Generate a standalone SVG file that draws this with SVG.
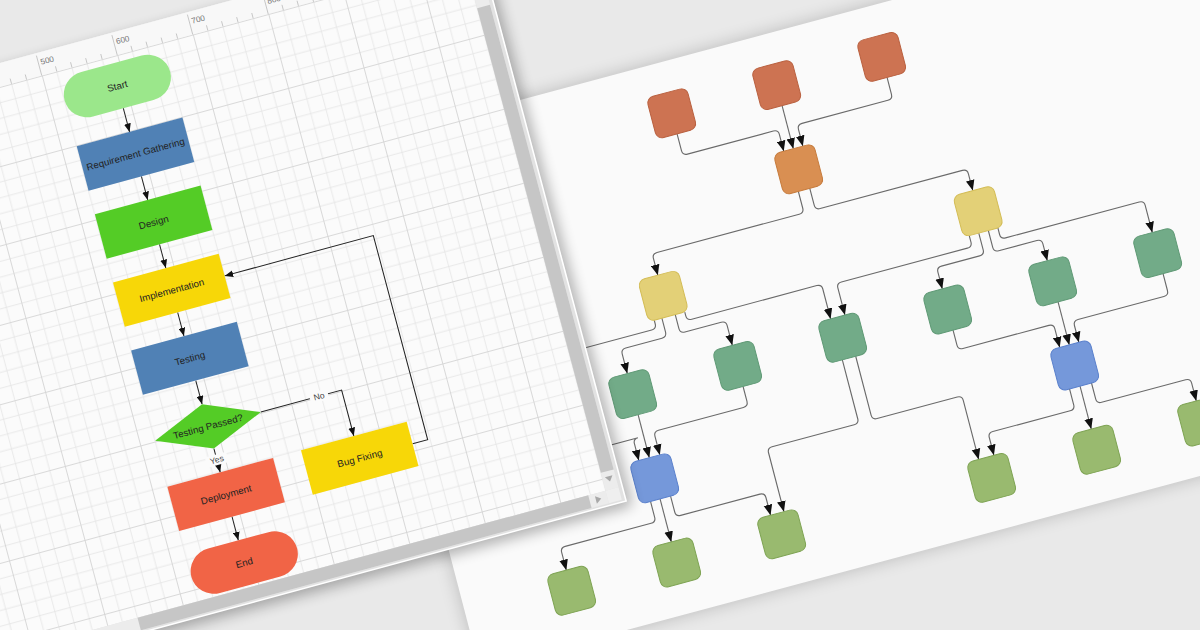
<svg xmlns="http://www.w3.org/2000/svg" width="1200" height="630" viewBox="0 0 1200 630">
<style>
.lk{fill:none;stroke:#222;stroke-width:1.3}
.rk{fill:none;stroke:#6a6a6a;stroke-width:1.15}
.ft{font-family:"Liberation Sans",Arial,sans-serif;font-size:12.5px;fill:#222;text-anchor:middle;dominant-baseline:central}
.lb{font-family:"Liberation Sans",Arial,sans-serif;font-size:11px;fill:#444;text-anchor:middle;dominant-baseline:central}
.rl{font-family:"Liberation Sans",Arial,sans-serif;font-size:10.5px;fill:#777;dominant-baseline:central}
.tk{stroke:#bdbdbd;stroke-width:1}
.na{fill:#cd7352;stroke:#b9603f;stroke-width:1}
.nb{fill:#d98f52;stroke:#c67b3c;stroke-width:1}
.nc{fill:#e3d077;stroke:#d3bc55;stroke-width:1}
.nd{fill:#72ab88;stroke:#5f9975;stroke-width:1}
.nf{fill:#7598da;stroke:#5a80cc;stroke-width:1}
.nh{fill:#99ba6f;stroke:#7ea353;stroke-width:1}
</style>
<defs>
<marker id="la" viewBox="0 0 10 8" markerWidth="11" markerHeight="9" refX="10" refY="4" orient="auto" markerUnits="userSpaceOnUse"><path d="M0 0L10 4L0 8z" fill="#111"/></marker>
<marker id="ra" viewBox="0 0 10 8" markerWidth="11" markerHeight="9.5" refX="10" refY="4" orient="auto" markerUnits="userSpaceOnUse"><path d="M0 0L10 4L0 8z" fill="#111"/></marker>
<pattern id="grid" patternUnits="userSpaceOnUse" x="0" y="21" width="100" height="100">
<rect width="100" height="100" fill="#fbfbfb"/>
<path d="M20 0V100M40 0V100M60 0V100M80 0V100M0 20H100M0 40H100M0 60H100M0 80H100" stroke="#e4e4e4" stroke-width="1" fill="none"/>
<path d="M0.6 0V100M0 0.6H100" stroke="#d4d4d4" stroke-width="1.2" fill="none"/>
</pattern>
<filter id="bl" x="-20%" y="-20%" width="140%" height="140%"><feGaussianBlur stdDeviation="9"/></filter>
</defs>
<rect width="1200" height="630" fill="#e9e9e9"/>

<g id="right-panel" transform="matrix(0.9545 -0.2564 0.2444 0.9356 671.7 113.3)">
<rect x="-330" y="-54" width="1100" height="558" fill="#000" opacity="0.2" filter="url(#bl)"/>
<rect x="-330" y="-54" width="1100" height="558" fill="#fafafa"/>
<g id="tree-connectors" class="rk" marker-end="url(#ra)">
<path d="M0 22V40Q0 45 5 45H95Q100 45 100 50V68"/>
<path d="M110 22V68"/>
<path d="M220 22V40Q220 45 215 45H125Q120 45 120 50V68"/>
<path d="M104 112V130Q104 135 99 135H-50Q-55 135 -55 140V158"/>
<path d="M116 112V130Q116 135 121 135H270Q275 135 275 140V158"/>
<path d="M-70 202V206Q-70 211 -75 211H-330" marker-end="none"/>
<path d="M-62 202V217Q-62 222 -67 222H-105Q-110 222 -110 227V248"/>
<path d="M-48 202V217Q-48 222 -43 222H-5Q0 222 0 227V248"/>
<path d="M-38 202V206Q-38 211 -33 211H98Q103 211 103 216V248"/>
<path d="M260 202V209Q260 214 255 214H123Q118 214 118 219V248"/>
<path d="M270 202V220Q270 225 265 225H225Q220 225 220 230V248"/>
<path d="M280 202V220Q280 225 285 225H325Q330 225 330 230V248"/>
<path d="M290 202V209Q290 214 295 214H435Q440 214 440 219V248"/>
<path d="M-110 292V338"/>
<path d="M0 292V308Q0 313 -5 313H-94Q-99 313 -99 318V338"/>
<path d="M-330 315H-116Q-121 315 -121 320V338"/>
<path d="M220 292V308Q220 313 225 313H315Q320 313 320 318V338"/>
<path d="M330 292V338"/>
<path d="M440 292V310Q440 315 435 315H345Q340 315 340 320V338"/>
<path d="M104 292V355Q104 360 99 360H13Q8 360 8 365V428"/>
<path d="M118 292V355Q118 360 123 360H207Q212 360 212 365V428"/>
<path d="M-120 382V399Q-120 404 -125 404H-215Q-220 404 -220 409V428"/>
<path d="M-110 382V428"/>
<path d="M-99 382V399Q-99 404 -94 404H-11Q-6 404 -6 409V428"/>
<path d="M319 382V399Q319 404 314 404H233Q228 404 228 409V428"/>
<path d="M330 382V428"/>
<path d="M342 382V399Q342 404 347 404H435Q440 404 440 409V428"/>
</g>
<g id="t-a1"><rect class="na" x="-21" y="-22" width="42" height="44" rx="7"/></g>
<g id="t-a2"><rect class="na" x="89" y="-22" width="42" height="44" rx="7"/></g>
<g id="t-a3"><rect class="na" x="199" y="-22" width="42" height="44" rx="7"/></g>
<g id="t-b"><rect class="nb" x="89" y="68" width="42" height="44" rx="7"/></g>
<g id="t-c1"><rect class="nc" x="254" y="158" width="42" height="44" rx="7"/></g>
<g id="t-c2"><rect class="nc" x="-76" y="158" width="42" height="44" rx="7"/></g>
<g id="t-e1"><rect class="nd" x="-131" y="248" width="42" height="44" rx="7"/></g>
<g id="t-e2"><rect class="nd" x="-21" y="248" width="42" height="44" rx="7"/></g>
<g id="t-e3"><rect class="nd" x="89" y="248" width="42" height="44" rx="7"/></g>
<g id="t-d1"><rect class="nd" x="199" y="248" width="42" height="44" rx="7"/></g>
<g id="t-d2"><rect class="nd" x="309" y="248" width="42" height="44" rx="7"/></g>
<g id="t-d3"><rect class="nd" x="419" y="248" width="42" height="44" rx="7"/></g>
<g id="t-g"><rect class="nf" x="-131" y="338" width="42" height="44" rx="7"/></g>
<g id="t-f"><rect class="nf" x="309" y="338" width="42" height="44" rx="7"/></g>
<g id="t-i1"><rect class="nh" x="-241" y="428" width="42" height="44" rx="7"/></g>
<g id="t-i2"><rect class="nh" x="-131" y="428" width="42" height="44" rx="7"/></g>
<g id="t-i3"><rect class="nh" x="-21" y="428" width="42" height="44" rx="7"/></g>
<g id="t-h1"><rect class="nh" x="199" y="428" width="42" height="44" rx="7"/></g>
<g id="t-h2"><rect class="nh" x="309" y="428" width="42" height="44" rx="7"/></g>
<g id="t-h3"><rect class="nh" x="419" y="428" width="42" height="44" rx="7"/></g>
</g>

<g id="left-panel" transform="matrix(0.755 -0.205 0.197 0.74 -339.9 162.55)">
<rect x="200" y="-9" width="882" height="766" fill="#000" opacity="0.3" filter="url(#bl)" transform="translate(6 8)"/>
<rect x="200" y="-9" width="883" height="767" fill="#ffffff"/>
<rect x="200" y="-9" width="881" height="765" fill="#e2e2e2"/>
<rect x="200" y="-9" width="860" height="30" fill="#f8f8f8"/>
<rect x="200" y="21" width="860" height="716" fill="url(#grid)"/>
<g id="ruler">
<path class="tk" d="M440 14V21M460 14V21M480 14V21M520 14V21M540 14V21M560 14V21M580 14V21M620 14V21M640 14V21M660 14V21M680 14V21M720 14V21M740 14V21M760 14V21M780 14V21M820 14V21M840 14V21M860 14V21M880 14V21M920 14V21M940 14V21M960 14V21M980 14V21M1020 14V21M1040 14V21"/>
<path class="tk" d="M500 -6V21M600 -6V21M700 -6V21M800 -6V21M900 -6V21M1000 -6V21"/>
<text class="rl" x="503" y="4">500</text>
<text class="rl" x="603" y="4">600</text>
<text class="rl" x="703" y="4">700</text>
<text class="rl" x="803" y="5">800</text>
</g>
<g id="scrollbars">
<rect x="1060" y="-9" width="17" height="746" fill="#ececec"/>
<rect x="1060" y="85" width="17" height="628" fill="#c6c6c6"/>
<path d="M1063.5 720H1073.5L1068.5 727z" fill="#a8a8a8"/>
<rect x="200" y="737" width="860" height="17" fill="#ececec"/>
<rect x="440" y="737" width="597" height="17" fill="#c6c6c6"/>
<path d="M1045 740.5V750.5L1052 745.5z" fill="#a8a8a8"/>
<rect x="1060" y="737" width="17" height="17" fill="#efefef"/>
</g>
<g id="flow-connectors" class="lk" marker-end="url(#la)">
<path d="M590 90V122"/>
<path d="M590 182V214"/>
<path d="M590 274V306"/>
<path d="M590 366V398"/>
<path d="M590 458V490"/>
<path d="M590 550V582"/>
<path d="M590 642V674"/>
<path d="M660 520H767V582"/>
<path d="M837 612H857V336H660"/>
</g>
<g id="labels">
<rect x="725" y="513" width="24" height="14" fill="#fbfbfb"/>
<text class="lb" x="737" y="520">No</text>
<rect x="576" y="558" width="28" height="14" fill="#fbfbfb"/>
<text class="lb" x="590" y="565">Yes</text>
</g>
<g id="n-start"><rect x="520" y="30" width="140" height="60" rx="30" fill="#9be78b"/><text class="ft" x="590" y="60">Start</text></g>
<g id="n-req"><rect x="520" y="122" width="140" height="60" fill="#5081b5"/><text class="ft" x="590" y="152">Requirement Gathering</text></g>
<g id="n-design"><rect x="520" y="214" width="140" height="60" fill="#54cc26"/><text class="ft" x="590" y="244">Design</text></g>
<g id="n-impl"><rect x="520" y="306" width="140" height="60" fill="#f7d708"/><text class="ft" x="590" y="336">Implementation</text></g>
<g id="n-test"><rect x="520" y="398" width="140" height="60" fill="#5081b5"/><text class="ft" x="590" y="428">Testing</text></g>
<g id="n-decide"><path d="M590 490L660 520L590 550L520 520z" fill="#54cc26"/><text class="ft" x="590" y="520">Testing Passed?</text></g>
<g id="n-deploy"><rect x="520" y="582" width="140" height="60" fill="#f16446"/><text class="ft" x="590" y="612">Deployment</text></g>
<g id="n-end"><rect x="520" y="674" width="140" height="60" rx="30" fill="#f16446"/><text class="ft" x="590" y="704">End</text></g>
<g id="n-bug"><rect x="697" y="582" width="140" height="60" fill="#f7d708"/><text class="ft" x="767" y="612">Bug Fixing</text></g>
</g>
</svg>
